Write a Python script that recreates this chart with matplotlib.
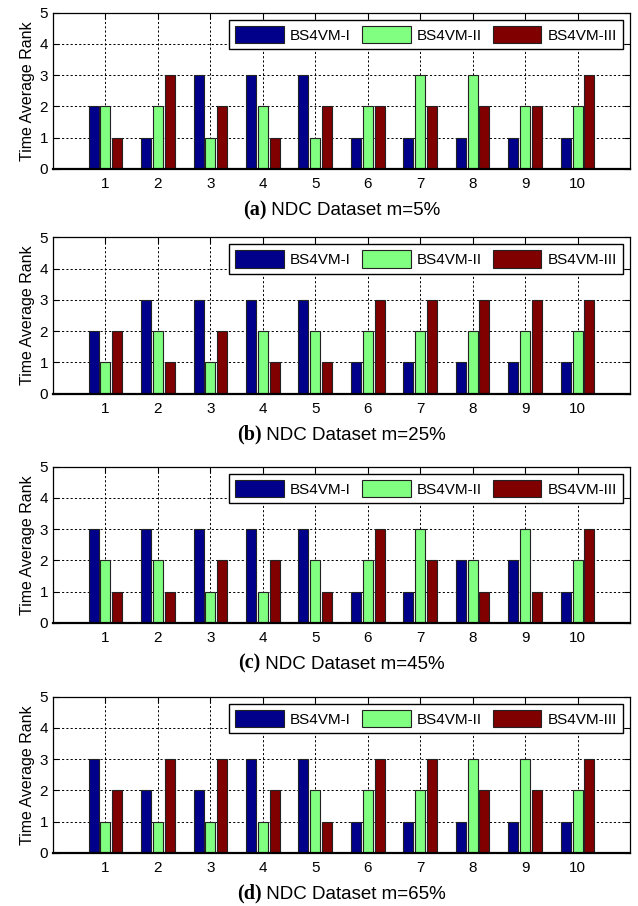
import numpy as np
import matplotlib
matplotlib.use("Agg")
import matplotlib.pyplot as plt

plt.rcParams['font.family'] = ['Liberation Sans', 'DejaVu Sans']

# 1. Data (ranks)
datasets = [1, 2, 3, 4, 5, 6, 7, 8, 9, 10]
series_names = ['BS4VM-I', 'BS4VM-II', 'BS4VM-III']
colors = ['#00008B', '#80FF80', '#800000']

rank_a_I = [2, 1, 3, 3, 3, 1, 1, 1, 1, 1]
rank_a_II = [2, 2, 1, 2, 1, 2, 3, 3, 2, 2]
rank_a_III = [1, 3, 2, 1, 2, 2, 2, 2, 2, 3]

rank_b_I = [2, 3, 3, 3, 3, 1, 1, 1, 1, 1]
rank_b_II = [1, 2, 1, 2, 2, 2, 2, 2, 2, 2]
rank_b_III = [2, 1, 2, 1, 1, 3, 3, 3, 3, 3]

rank_c_I = [3, 3, 3, 3, 3, 1, 1, 2, 2, 1]
rank_c_II = [2, 2, 1, 1, 2, 2, 3, 2, 3, 2]
rank_c_III = [1, 1, 2, 2, 1, 3, 2, 1, 1, 3]

rank_d_I = [3, 2, 2, 3, 3, 1, 1, 1, 1, 1]
rank_d_II = [1, 1, 1, 1, 2, 2, 2, 3, 3, 2]
rank_d_III = [2, 3, 3, 2, 1, 3, 3, 2, 2, 3]

panel_letters = ['(a)', '(b)', '(c)', '(d)']
panel_titles = ['NDC Dataset m=5%', 'NDC Dataset m=25%',
                'NDC Dataset m=45%', 'NDC Dataset m=65%']
panels = [
    [rank_a_I, rank_a_II, rank_a_III],
    [rank_b_I, rank_b_II, rank_b_III],
    [rank_c_I, rank_c_II, rank_c_III],
    [rank_d_I, rank_d_II, rank_d_III],
]

# 2. Layout (pixel positions measured on the reference)
W, H = 638, 906
fig = plt.figure(figsize=(W / 100, H / 100), dpi=100)
ax_left, ax_right = 53, 630
ax_tops = [12.7, 237.3, 466.7, 696.7]
ax_bottoms = [169, 393.7, 622.7, 852.7]

x = np.array(datasets)
offsets = [-0.225, 0.0, 0.225]
bar_w = 0.19

captions = []
for i, series in enumerate(panels):
    top, bot = ax_tops[i], ax_bottoms[i]
    ax = fig.add_axes([ax_left / W, 1 - bot / H, (ax_right - ax_left) / W, (bot - top) / H])
    for vals, off, col, name in zip(series, offsets, colors, series_names):
        ax.bar(x + off, vals, width=bar_w, color=col, edgecolor='#222222',
               linewidth=0.8, label=name, zorder=2)

    ax.set_xlim(0, 11)
    ax.set_ylim(0, 5)
    ax.set_xticks(datasets)
    ax.set_yticks(range(6))
    ax.tick_params(direction='in', top=True, right=True, length=4, labelsize=11)
    ax.tick_params(axis='x', pad=6)
    ax.set_axisbelow(True)
    ax.grid(True, color='black', linestyle=(0, (2.2, 2.2)), linewidth=0.7)
    for s in ax.spines.values():
        s.set_linewidth(0.9)
    ax.spines['bottom'].set_linewidth(1.6)
    ax.set_ylabel('Time Average Rank', fontsize=11.5, labelpad=3)

    leg = ax.legend(ncol=3, loc='upper right', bbox_to_anchor=(0.988, 0.955),
                    borderaxespad=0, fontsize=11, handlelength=3.2,
                    handleheight=1.35, handletextpad=0.4, columnspacing=0.7,
                    borderpad=0.4, fancybox=False, framealpha=1)
    leg.get_frame().set_edgecolor('black')
    leg.get_frame().set_linewidth(1.0)

    # caption: bold serif letter + sans text
    ycap = 1 - (bot + 46) / H
    t1 = fig.text(0, ycap, panel_letters[i], fontfamily='Liberation Serif',
                  fontweight='bold', fontsize=14.5, va='baseline', ha='left')
    t2 = fig.text(0, ycap, ' ' + panel_titles[i], fontsize=13.5,
                  va='baseline', ha='left')
    captions.append((t1, t2))

# center each caption under its axes
fig.canvas.draw()
r = fig.canvas.get_renderer()
cx = (ax_left + ax_right) / 2
for t1, t2 in captions:
    w1 = t1.get_window_extent(r).width
    w2 = t2.get_window_extent(r).width
    x0 = cx - (w1 + w2) / 2
    t1.set_x(x0 / W)
    t2.set_x((x0 + w1) / W)

plt.savefig('out.png', dpi=100)
